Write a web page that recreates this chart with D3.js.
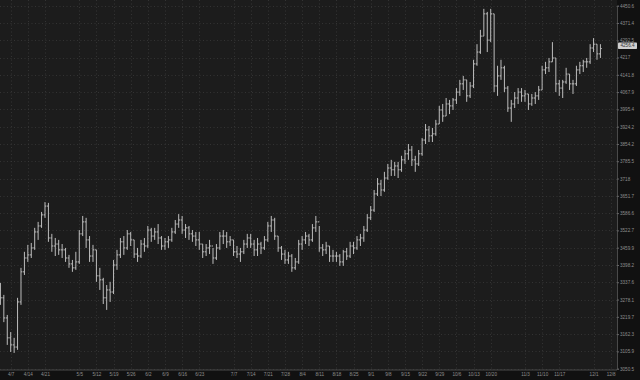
<!DOCTYPE html>
<html>
<head>
<meta charset="utf-8">
<script src="https://cdn.jsdelivr.net/npm/d3@7/dist/d3.min.js"></script>
<style>
  html, body { margin: 0; padding: 0; background: #121212; }
  .chart text { font-family: "Liberation Sans", Arial, sans-serif; }
</style>
</head>
<body>
<div class="chart"></div>
<script>
// Daily bars, one per trading day starting 2025-04-02
var firstOpen = 3310;

var highs = [
  3335, 3294, 3226, 3169, 3150, 3284, 3388, 3445,
  3470, 3477, 3532, 3554, 3591,
  3628, 3625, 3510, 3495, 3488,
  3473, 3459, 3434, 3416, 3445,
  3524, 3576, 3569, 3502, 3470,
  3452, 3388, 3353, 3328, 3339,
  3416, 3452, 3495, 3502, 3524,
  3517, 3488, 3459, 3488, 3495,
  3539, 3532, 3532, 3546, 3502,
  3495, 3502, 3532, 3561, 3583,
  3576, 3546, 3539, 3524, 3517,
  3517, 3473, 3473, 3488, 3459,
  3473, 3517, 3524, 3517, 3502,
  3488, 3466, 3459, 3488, 3510,
  3510, 3488, 3495, 3481, 3502,
  3554, 3576, 3569, 3502, 3466,
  3452, 3445, 3437, 3423, 3488,
  3502, 3517, 3510, 3546, 3576,
  3539, 3473, 3481, 3466, 3452,
  3445, 3437, 3452, 3459, 3481,
  3481, 3502, 3510, 3539, 3583,
  3613, 3674, 3720, 3713, 3744,
  3775, 3791, 3783, 3783, 3807,
  3830, 3854, 3846, 3807, 3830,
  3878, 3935, 3927, 3919, 3952,
  4010, 4018, 4043, 4035, 4043,
  4085, 4120, 4137, 4120, 4111,
  4207, 4276, 4340, 4436, 4422,
  4436, 4413, 4181, 4207, 4181,
  4094, 4035, 4068, 4085, 4085,
  4077, 4060, 4060, 4068, 4094,
  4181, 4198, 4215, 4285, 4215,
  4120, 4120, 4172, 4145, 4120,
  4181, 4198, 4207, 4215, 4276,
  4303, 4276, 4276
];

var lows = [
  3260, 3202, 3127, 3104, 3101, 3111, 3260, 3363,
  3409, 3423, 3452, 3488, 3532,
  3569, 3481, 3445, 3430, 3434,
  3423, 3409, 3388, 3374, 3381,
  3402, 3502, 3459, 3409, 3409,
  3339, 3311, 3263, 3243, 3270,
  3297, 3381, 3423, 3434, 3452,
  3466, 3423, 3409, 3423, 3445,
  3459, 3481, 3488, 3473, 3452,
  3452, 3459, 3481, 3510, 3532,
  3510, 3495, 3488, 3481, 3466,
  3452, 3423, 3430, 3437, 3402,
  3416, 3452, 3473, 3459, 3466,
  3430, 3423, 3409, 3437, 3459,
  3459, 3430, 3430, 3437, 3452,
  3481, 3517, 3488, 3445, 3416,
  3402, 3402, 3374, 3381, 3402,
  3452, 3473, 3466, 3481, 3517,
  3445, 3430, 3437, 3409, 3409,
  3409, 3395, 3395, 3416, 3423,
  3437, 3452, 3466, 3481, 3517,
  3561, 3591, 3651, 3651, 3667,
  3713, 3728, 3728, 3720, 3744,
  3775, 3791, 3767, 3744, 3767,
  3807, 3854, 3862, 3862, 3887,
  3935, 3944, 3968, 3976, 3993,
  4018, 4052, 4077, 4027, 4043,
  4085, 4181, 4233, 4312, 4241,
  4285, 4068, 4052, 4120, 4068,
  3985, 3944, 4001, 4018, 4027,
  4027, 3993, 4010, 4018, 4035,
  4077, 4145, 4154, 4198, 4068,
  4052, 4043, 4103, 4077, 4060,
  4094, 4145, 4154, 4172, 4189,
  4241, 4207, 4215
];

var closes = [
  3284, 3216, 3150, 3127, 3120, 3270, 3374, 3423,
  3434, 3459, 3517, 3539, 3580,
  3613, 3495, 3466, 3473, 3452,
  3452, 3423, 3402, 3388, 3409,
  3510, 3554, 3488, 3430, 3452,
  3360, 3346, 3284, 3311, 3304,
  3398, 3434, 3481, 3459, 3510,
  3488, 3437, 3430, 3473, 3466,
  3524, 3502, 3517, 3495, 3466,
  3481, 3488, 3517, 3546, 3561,
  3524, 3532, 3510, 3502, 3488,
  3473, 3445, 3459, 3466, 3423,
  3459, 3502, 3502, 3481, 3488,
  3445, 3437, 3445, 3473, 3495,
  3473, 3452, 3473, 3459, 3488,
  3539, 3561, 3502, 3459, 3437,
  3416, 3430, 3388, 3409, 3473,
  3488, 3502, 3488, 3532, 3554,
  3459, 3452, 3466, 3430, 3430,
  3430, 3409, 3445, 3430, 3466,
  3459, 3488, 3495, 3524, 3569,
  3598, 3659, 3697, 3674, 3720,
  3759, 3752, 3767, 3752, 3791,
  3815, 3830, 3791, 3775, 3815,
  3870, 3911, 3887, 3895, 3935,
  3993, 3968, 4018, 4010, 4035,
  4068, 4103, 4120, 4052, 4094,
  4189, 4241, 4312, 4413, 4294,
  4413, 4094, 4137, 4172, 4085,
  4001, 4018, 4043, 4068, 4052,
  4060, 4018, 4043, 4052, 4077,
  4163, 4172, 4198, 4215, 4103,
  4085, 4111, 4145, 4103, 4103,
  4163, 4181, 4198, 4198, 4259,
  4276, 4233, 4256.4
];

// Week labels along the bottom
var xTickLabels = ["4/7", "4/14", "4/21", "5/5", "5/12", "5/19", "5/26", "6/2", "6/9",
  "6/16", "6/23", "7/7", "7/14", "7/21", "7/28", "8/4", "8/11", "8/18", "8/25", "9/1",
  "9/8", "9/15", "9/22", "9/29", "10/6", "10/13", "10/20", "11/3", "11/10", "11/17",
  "12/1", "12/8"];

// Price labels on the right (log spaced)
var yTickValues = [4450.6, 4371.4, 4292.5, 4217, 4141.8, 4067.9, 3995.4, 3924.2, 3854.2,
  3785.5, 3718, 3651.7, 3586.6, 3522.7, 3459.9, 3398.2, 3337.6, 3278.1, 3219.7, 3162.3,
  3105.9, 3050.5];

// Step 0: chart setup
var svgWidth = 640;
var svgHeight = 380;
var plotRight = 617;
var plotBottom = 369.5;

var svg = d3.select(".chart")
  .append("svg")
  .attr("width", svgWidth)
  .attr("height", svgHeight)
  .style("display", "block");

svg.append("rect").attr("width", svgWidth).attr("height", svgHeight).attr("fill", "#111111");
svg.append("rect").attr("width", plotRight).attr("height", plotBottom).attr("fill", "#1c1c1c");

// trading day index counted from the first bar (weekdays only)
var startDate = new Date(2025, 3, 2);
function tradingIndex(label) {
  var parts = label.split("/");
  var d = new Date(2025, +parts[0] - 1, +parts[1]);
  var n = 0;
  for (var t = new Date(startDate); t < d; t.setDate(t.getDate() + 1)) {
    var wd = t.getDay();
    if (wd !== 0 && wd !== 6) n++;
  }
  return n;
}
var xTickIndex = xTickLabels.map(tradingIndex);

var xScale = d3.scaleLinear()
  .domain([xTickIndex[0], xTickIndex[xTickIndex.length - 1]])
  .range([10.7, 610.7]);

var yScale = d3.scaleLog()
  .domain([3050.5, 4450.6])
  .range([368.7, 5.7]);

// dotted grid
var grid = svg.append("g").attr("stroke", "#3a3a3a").attr("stroke-width", 0.8)
  .attr("stroke-dasharray", "1,2.5");

grid.selectAll(".hgrid")
  .data(yTickValues)
  .enter()
  .append("line")
  .attr("x1", 0)
  .attr("x2", plotRight)
  .attr("y1", function(d) { return Math.round(yScale(d)) + 0.5; })
  .attr("y2", function(d) { return Math.round(yScale(d)) + 0.5; });

grid.selectAll(".vgrid")
  .data(xTickIndex)
  .enter()
  .append("line")
  .attr("y1", 0)
  .attr("y2", plotBottom)
  .attr("x1", function(d) { return Math.round(xScale(d)) + 0.5; })
  .attr("x2", function(d) { return Math.round(xScale(d)) + 0.5; });

// OHLC bars
var bars = closes.map(function(c, i) {
  return { i: i, o: i === 0 ? firstOpen : closes[i - 1], h: highs[i], l: lows[i], c: c };
});

var barGroup = svg.append("g").attr("stroke", "#bdbdbd").attr("stroke-width", 1);

barGroup.selectAll(".hl")
  .data(bars)
  .enter()
  .append("line")
  .attr("x1", function(d) { return xScale(d.i); })
  .attr("x2", function(d) { return xScale(d.i); })
  .attr("y1", function(d) { return yScale(d.h); })
  .attr("y2", function(d) { return yScale(d.l); });

barGroup.selectAll(".op")
  .data(bars)
  .enter()
  .append("line")
  .attr("x1", function(d) { return xScale(d.i) - 1.4; })
  .attr("x2", function(d) { return xScale(d.i); })
  .attr("y1", function(d) { return yScale(d.o); })
  .attr("y2", function(d) { return yScale(d.o); });

barGroup.selectAll(".cl")
  .data(bars)
  .enter()
  .append("line")
  .attr("x1", function(d) { return xScale(d.i); })
  .attr("x2", function(d) { return xScale(d.i) + 1.4; })
  .attr("y1", function(d) { return yScale(d.c); })
  .attr("y2", function(d) { return yScale(d.c); });

// right price axis
var rightAxis = d3.axisRight(yScale)
  .tickValues(yTickValues)
  .tickFormat(String)
  .tickSize(2)
  .tickPadding(1);

var yAxisG = svg.append("g")
  .attr("transform", "translate(" + plotRight + ",0)")
  .call(rightAxis);
yAxisG.select(".domain").attr("stroke", "#4a4a4a");
yAxisG.selectAll(".tick line").attr("stroke", "#666");
yAxisG.selectAll(".tick text").attr("fill", "#8e8e8e").style("font-size", "4.6px");

// bottom date axis
var bottomAxis = d3.axisBottom(xScale)
  .tickValues(xTickIndex)
  .tickFormat(function(d, i) { return xTickLabels[i]; })
  .tickSize(0)
  .tickPadding(3);

var xAxisG = svg.append("g")
  .attr("transform", "translate(0," + plotBottom + ")")
  .call(bottomAxis);
xAxisG.select(".domain").attr("stroke", "#4a4a4a").attr("d", "M0,0.5H" + plotRight);
xAxisG.selectAll(".tick text").attr("fill", "#8e8e8e").style("font-size", "4.6px");

// last price marker
var lastPrice = closes[closes.length - 1];
var lastY = yScale(lastPrice);
svg.append("rect")
  .attr("x", plotRight + 1)
  .attr("y", lastY - 6)
  .attr("width", 19)
  .attr("height", 6.5)
  .attr("rx", 0.8)
  .attr("fill", "#cfcfcf");
svg.append("text")
  .attr("x", plotRight + 10.5)
  .attr("y", lastY - 2.7)
  .attr("dy", "0.32em")
  .attr("text-anchor", "middle")
  .attr("fill", "#333")
  .style("font-size", "4.6px")
  .text(lastPrice);
</script>
</body>
</html>
